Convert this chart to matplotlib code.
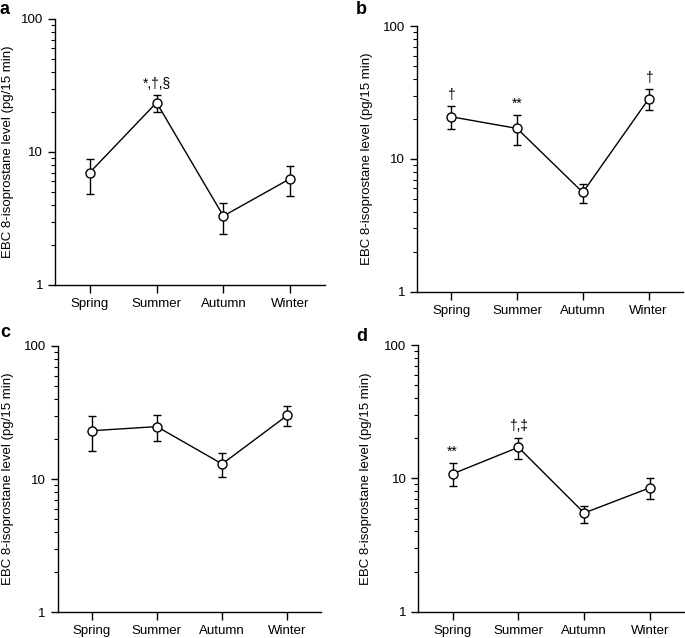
import matplotlib
matplotlib.use('Agg')
import matplotlib.pyplot as plt
from matplotlib.ticker import LogLocator, NullFormatter, FixedLocator, FixedFormatter

plt.rcParams['font.family'] = ['Liberation Sans', 'DejaVu Sans']

seasons = ["Spring", "Summer", "Autumn", "Winter"]

# mean values and error-bar ends
a_mean = [7.0, 23.5, 3.3, 6.3]
a_hi = [8.9, 26.8, 4.1, 7.9]
a_lo = [4.8, 20.1, 2.4, 4.7]
a_notes = ["", "*,\u2020,\u00a7", "", ""]

b_mean = [20.8, 17.0, 5.6, 28.3]
b_hi = [25.2, 21.4, 6.5, 33.4]
b_lo = [16.7, 12.7, 4.7, 23.4]
b_notes = ["\u2020", "**", "", "\u2020"]

c_mean = [23.1, 24.8, 13.0, 30.2]
c_hi = [30.0, 30.2, 15.8, 35.4]
c_lo = [16.4, 19.2, 10.4, 24.9]
c_notes = ["", "", "", ""]

d_mean = [10.8, 17.1, 5.5, 8.5]
d_hi = [13.0, 20.2, 6.2, 10.1]
d_lo = [8.7, 14.0, 4.65, 7.0]
d_notes = ["**", "\u2020,\u2021", "", ""]

ylabel = "EBC 8-isoprostane level (pg/15 min)"


def draw_panel(ax, mean, hi, lo, notes, label_x):
    xs = range(len(seasons))
    yerr = [[m - l for m, l in zip(mean, lo)], [h - m for m, h in zip(mean, hi)]]
    ax.errorbar(xs, mean, yerr=yerr, color='black', lw=1.0, elinewidth=1.0,
                capsize=3, capthick=1.0, marker='o', ms=6.5, mfc='white',
                mec='black', mew=1.0)
    ax.set_yscale('log')
    ax.set_ylim(1, 100)
    ax.set_xlim(-0.52, 3.52)
    ax.yaxis.set_major_locator(FixedLocator([1, 10, 100]))
    ax.yaxis.set_major_formatter(FixedFormatter(["1", "10", "100"]))
    ax.yaxis.set_minor_locator(LogLocator(base=10, subs=range(2, 10)))
    ax.yaxis.set_minor_formatter(NullFormatter())
    ax.set_xticks(list(xs))
    ax.set_xticklabels(seasons)
    for s in ['top', 'right']:
        ax.spines[s].set_visible(False)
    for s in ['left', 'bottom']:
        ax.spines[s].set_linewidth(1.0)
    ax.tick_params(which='major', length=5, width=1.0, labelsize=9.5, direction='out')
    ax.tick_params(which='minor', length=3, width=0.8, direction='out')
    ax.tick_params(axis='x', length=5.5, pad=4)
    ax.set_ylabel(ylabel, fontsize=9.5)
    ax.yaxis.set_label_coords(label_x, 0.5)
    for x, h, t in zip(xs, hi, notes):
        if t:
            ax.annotate(t, (x, h), xytext=(0, 3), textcoords='offset points',
                        ha='center', va='bottom', fontsize=10)


fig = plt.figure(figsize=(6.85, 6.38), dpi=100)
ax_a = fig.add_axes([0.0803, 0.5533, 0.394, 0.417])
ax_b = fig.add_axes([0.6088, 0.5428, 0.388, 0.416])
ax_c = fig.add_axes([0.0842, 0.0403, 0.385, 0.4174])
ax_d = fig.add_axes([0.6107, 0.0412, 0.388, 0.418])

draw_panel(ax_a, a_mean, a_hi, a_lo, a_notes, -0.152)
draw_panel(ax_b, b_mean, b_hi, b_lo, b_notes, -0.165)
draw_panel(ax_c, c_mean, c_hi, c_lo, c_notes, -0.165)
draw_panel(ax_d, d_mean, d_hi, d_lo, d_notes, -0.174)

# panel letters
for letter, px, py in [("a", 0, 14), ("b", 356, 14), ("c", 0, 337), ("d", 356, 341)]:
    fig.text(px / 685, (638 - py) / 638, letter, fontsize=13, fontweight='bold',
             ha='left', va='baseline')

fig.savefig("out.png", dpi=100)
